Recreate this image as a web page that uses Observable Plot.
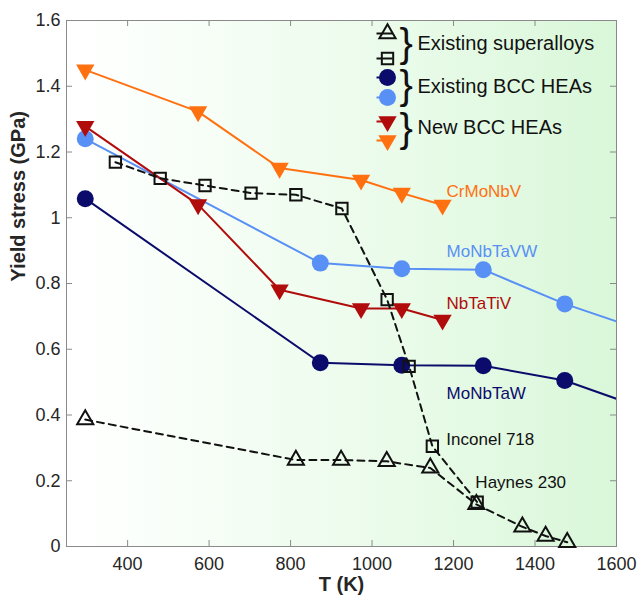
<!DOCTYPE html>
<html><head><meta charset="utf-8">
<script src="https://cdn.jsdelivr.net/npm/d3@7"></script>
<script src="https://cdn.jsdelivr.net/npm/@observablehq/plot@0.6"></script>
<style>html,body{margin:0;padding:0;background:#fff;}</style>
</head><body><div id="chart"></div>
<script>
// ---- data ----
const T_new = [296, 573, 773, 973, 1073, 1173];
const CrMoNbV = [1.450, 1.323, 1.151, 1.115, 1.075, 1.039];
const NbTaTiV = [1.278, 1.040, 0.781, 0.724, 0.724, 0.689];
const T_bcc = [296, 873, 1073, 1273, 1473, 1873];
const MoNbTaVW = [1.240, 0.862, 0.845, 0.842, 0.738, 0.570];
const MoNbTaW = [1.058, 0.559, 0.551, 0.550, 0.505, 0.330];
const T_inconel = [370, 480, 590, 703, 813, 926, 1037, 1091, 1148, 1258];
const Inconel718 = [1.169, 1.120, 1.098, 1.075, 1.070, 1.028, 0.751, 0.548, 0.305, 0.135];
const T_haynes = [296, 813, 924, 1036, 1143, 1256, 1369, 1426, 1479];
const Haynes230 = [0.386, 0.263, 0.263, 0.259, 0.239, 0.128, 0.060, 0.032, 0.013];
const xTicks = [400, 600, 800, 1000, 1200, 1400, 1600];
const yTicks = [0, 0.2, 0.4, 0.6, 0.8, 1.0, 1.2, 1.4, 1.6];
const legendLabels = ["Existing superalloys", "Existing BCC HEAs", "New BCC HEAs"];
const seriesNames = ["CrMoNbV", "MoNbTaVW", "NbTaTiV", "MoNbTaW", "Inconel 718", "Haynes 230"];

// ---- styles ----
const C = {orange: "#ff7011", red: "#b00c0c", blue: "#5890f5", navy: "#0b0b6b", black: "#111"};
const zip = (xs, ys) => xs.map((x, i) => ({T: x, v: ys[i]}));
const cr = zip(T_new, CrMoNbV), nb = zip(T_new, NbTaTiV);
const vw = zip(T_bcc, MoNbTaVW), w = zip(T_bcc, MoNbTaW);
const inc = zip(T_inconel, Inconel718), hay = zip(T_haynes, Haynes230);

const seriesLabel = (name, T, v, dx, dy, color) =>
  Plot.text([{name, T, v}], {x: "T", y: "v", text: "name", dx, dy, fill: color, textAnchor: "start", fontSize: 17});

const lineOpts = (color) => ({x: "T", y: "v", stroke: color, strokeWidth: 2, clip: true});
const stubSymbol = {draw(ctx) { ctx.moveTo(-8, 0); ctx.lineTo(8, 0); }};
const legendRow = (dy, opts, lineColor) => [
  Plot.dot([0], {frameAnchor: "top-left", dx: 318, dy, symbol: stubSymbol, stroke: lineColor, strokeWidth: 2, fill: "none"}),
  Plot.dot([0], {frameAnchor: "top-left", dx: 321, dy, ...opts})
];
const legendText = (text, dx, dy, fontSize) =>
  Plot.text([text], {text: d => d, frameAnchor: "top-left", lineAnchor: "middle", dx, dy, textAnchor: "start", fontSize, fill: "#111"});

const chart = Plot.plot({
  width: 640, height: 596,
  marginLeft: 66, marginRight: 24, marginTop: 20, marginBottom: 50,
  style: {fontFamily: "'Liberation Sans', Arial, sans-serif", fontSize: "18px", color: "#262626", background: "#fff"},
  x: {domain: [250, 1600]},
  y: {domain: [0, 1.6]},
  marks: [
    Plot.frame({fill: "url(#bggrad)", stroke: null}),
    Plot.tickX(xTicks, {x: d => d, insetTop: 520, stroke: "#8a8a8a"}),
    Plot.tickX(xTicks, {x: d => d, insetBottom: 520, stroke: "#8a8a8a"}),
    Plot.tickY(yTicks, {y: d => d, insetRight: 544, stroke: "#8a8a8a"}),
    Plot.tickY(yTicks, {y: d => d, insetLeft: 544, stroke: "#8a8a8a"}),
    Plot.frame({stroke: "#8a8a8a", strokeWidth: 1}),
    Plot.axisX({ticks: xTicks, tickSize: 0, tickPadding: 11, label: null, fill: "#262626", fontSize: 18,
      tickFormat: d => String(d)}),
    Plot.axisY({ticks: yTicks, tickSize: 0, tickPadding: 6, label: null, fill: "#262626", fontSize: 18,
      tickFormat: d => String(+d.toFixed(1))}),
    Plot.text(["Yield stress (GPa)"], {text: d => d, frameAnchor: "left", lineAnchor: "middle", rotate: -90, dx: -48, dy: -2,
      fontWeight: "bold", fontSize: 20, fill: "#262626"}),
    Plot.text(["T (K)"], {text: d => d, frameAnchor: "bottom", lineAnchor: "middle", dy: 38, fontWeight: "bold", fontSize: 20, fill: "#262626"}),

    // existing BCC HEAs
    Plot.line(vw, lineOpts(C.blue)),
    Plot.dot(vw, {x: "T", y: "v", r: 8.5, fill: C.blue, clip: true}),
    Plot.line(w, lineOpts(C.navy)),
    Plot.dot(w, {x: "T", y: "v", r: 8.5, fill: C.navy, clip: true}),
    // new BCC HEAs
    Plot.line(nb, lineOpts(C.red)),
    Plot.dot(nb, {x: "T", y: "v", symbol: "triangle", rotate: 180, r: 6.8, fill: C.red}),
    Plot.line(cr, lineOpts(C.orange)),
    Plot.dot(cr, {x: "T", y: "v", symbol: "triangle", rotate: 180, r: 6.8, fill: C.orange}),
    // superalloys
    Plot.line(hay, {x: "T", y: "v", stroke: C.black, strokeWidth: 2, strokeDasharray: "7,5"}),
    Plot.dot(hay, {x: "T", y: "v", symbol: "triangle", r: 6, stroke: C.black, strokeWidth: 2, fill: "none"}),
    Plot.line(inc, {x: "T", y: "v", stroke: C.black, strokeWidth: 2, strokeDasharray: "7,5"}),
    Plot.dot(inc, {x: "T", y: "v", symbol: "square", r: 6.4, stroke: C.black, strokeWidth: 2, fill: "none"}),

    // series labels (anchored to data points, offset in pixels)
    seriesLabel(seriesNames[0], T_new[5], CrMoNbV[5], 4, -13, C.orange),
    seriesLabel(seriesNames[1], T_new[5], MoNbTaVW[2], 4, -17, C.blue),
    seriesLabel(seriesNames[2], T_new[5], NbTaTiV[5], 4, -16, C.red),
    seriesLabel(seriesNames[3], T_new[5], MoNbTaW[2], 4, 28, C.navy),
    seriesLabel(seriesNames[4], T_inconel[8], Inconel718[8], 14, -7, "#111"),
    seriesLabel(seriesNames[5], T_haynes[5], Haynes230[5], -1, -22, "#111"),

    // legend
    ...legendRow(13, {symbol: "triangle", r: 6, stroke: C.black, strokeWidth: 2, fill: "none"}, C.black),
    ...legendRow(38, {symbol: "square", r: 6.4, stroke: C.black, strokeWidth: 2, fill: "none"}, C.black),
    ...legendRow(57, {r: 8.5, fill: C.navy}, C.navy),
    ...legendRow(77, {r: 8.5, fill: C.blue}, C.blue),
    ...legendRow(101, {symbol: "triangle", rotate: 180, r: 6.8, fill: C.red}, C.red),
    ...legendRow(120, {symbol: "triangle", rotate: 180, r: 6.8, fill: C.orange}, C.orange),
    legendText("}", 333, 24, 40),
    legendText("}", 333, 66, 40),
    legendText("}", 333, 109, 40),
    legendText(legendLabels[0], 351, 23, 20),
    legendText(legendLabels[1], 351, 66, 20),
    legendText(legendLabels[2], 351, 107, 20)
  ]
});

// inject background gradient
const ns = "http://www.w3.org/2000/svg";
const defs = document.createElementNS(ns, "defs");
defs.innerHTML = `<linearGradient id="bggrad" x1="0" y1="0" x2="1" y2="0">
  <stop offset="0" stop-color="#ffffff"/>
  <stop offset="0.1" stop-color="#fcfffc"/>
  <stop offset="0.6" stop-color="#eafbea"/>
  <stop offset="1" stop-color="#d9f7d9"/>
</linearGradient>`;
chart.insertBefore(defs, chart.firstChild);
document.getElementById("chart").appendChild(chart);
</script>
</body></html>
